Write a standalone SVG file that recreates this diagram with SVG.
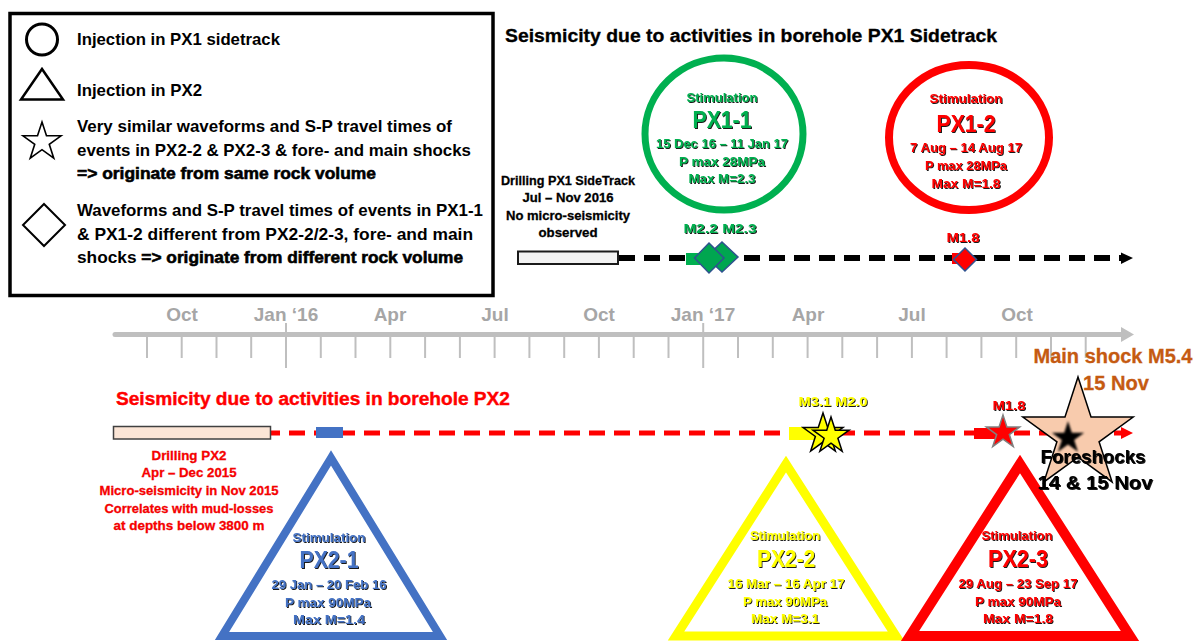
<svg xmlns="http://www.w3.org/2000/svg" width="1193" height="642" viewBox="0 0 1193 642">
<defs>
<style>
text{font-family:"Liberation Sans",Arial,sans-serif;font-weight:bold}
.lg{font-size:17px;fill:#000}
.hv{stroke:#000;stroke-width:0.6}
.ax{font-size:19px;fill:#A6A6A6;text-anchor:middle}
.tick{stroke:#BFBFBF;stroke-width:2}
.c{text-anchor:middle}
.s{font-size:13.5px}
.big{font-size:23px}
.sh{filter:url(#sh)}
.g{fill:#00B050}
.r{fill:#FF0000}
.b{fill:#4472C4}
.y{fill:#FFFF00}
.k{fill:#000}
.th{stroke:#000;stroke-width:0.3}
</style>
<filter id="sh" x="-10%" y="-30%" width="125%" height="170%">
<feDropShadow dx="1" dy="1" stdDeviation="0.45" flood-color="#000" flood-opacity="0.9"/>
</filter>
<filter id="blur" x="-20%" y="-20%" width="140%" height="140%">
<feGaussianBlur stdDeviation="0.8"/>
</filter>
<path id="star" vector-effect="non-scaling-stroke" d="M0,-1 L0.2245,-0.309 L0.9511,-0.309 L0.3633,0.118 L0.5878,0.809 L0,0.382 L-0.5878,0.809 L-0.3633,0.118 L-0.9511,-0.309 L-0.2245,-0.309 Z"/>
</defs>
<rect width="1193" height="642" fill="#fff"/>

<g id="legend">
<rect x="10" y="13.5" width="483" height="282" fill="#fff" stroke="#000" stroke-width="3.5"/>
<circle cx="42" cy="39.5" r="15.5" fill="none" stroke="#000" stroke-width="3"/>
<polygon points="42,69 21,99.5 63,99.5" fill="none" stroke="#000" stroke-width="2.5"/>
<use href="#star" transform="translate(42,142) scale(20)" fill="#fff" stroke="#000" stroke-width="1.6"/>
<polygon points="44,204 65,225 44,246 23,225" fill="none" stroke="#000" stroke-width="2"/>
<text class="lg" x="77" y="45" textLength="203" lengthAdjust="spacingAndGlyphs">Injection in PX1 sidetrack</text>
<text class="lg" x="77" y="96" textLength="125" lengthAdjust="spacingAndGlyphs">Injection in PX2</text>
<text class="lg" x="77" y="132" textLength="375" lengthAdjust="spacingAndGlyphs">Very similar waveforms and S-P travel times of</text>
<text class="lg" x="77" y="156" textLength="394" lengthAdjust="spacingAndGlyphs">events in PX2-2 &amp; PX2-3 &amp; fore- and main shocks</text>
<text class="lg hv" x="77" y="179" textLength="299" lengthAdjust="spacingAndGlyphs">=&gt; originate from same rock volume</text>
<text class="lg" x="77" y="216" textLength="406" lengthAdjust="spacingAndGlyphs">Waveforms and S-P travel times of events in PX1-1</text>
<text class="lg" x="77" y="240" textLength="396" lengthAdjust="spacingAndGlyphs">&amp; PX1-2 different from PX2-2/2-3, fore- and main</text>
<text class="lg" x="77" y="263" textLength="386" lengthAdjust="spacingAndGlyphs">shocks <tspan class="hv">=&gt; originate from different rock volume</tspan></text>
</g>

<g id="title-px1">
<text x="505" y="42" font-size="18" fill="#000" class="th" textLength="492" lengthAdjust="spacingAndGlyphs">Seismicity due to activities in borehole PX1 Sidetrack</text>
</g>

<g id="timeline">
<line x1="115" y1="334.5" x2="1122" y2="334.5" stroke="#BFBFBF" stroke-width="5" stroke-linecap="round"/>
<polygon points="1121,327 1134,334.5 1121,342" fill="#BFBFBF"/>
<g class="tick">
<line x1="147" y1="337" x2="147" y2="358"/>
<line x1="181.7" y1="337" x2="181.7" y2="358"/>
<line x1="216.5" y1="337" x2="216.5" y2="358"/>
<line x1="251.2" y1="337" x2="251.2" y2="358"/>
<line x1="286" y1="323" x2="286" y2="368"/>
<line x1="320.8" y1="337" x2="320.8" y2="358"/>
<line x1="355.5" y1="337" x2="355.5" y2="358"/>
<line x1="390.3" y1="337" x2="390.3" y2="358"/>
<line x1="425.1" y1="337" x2="425.1" y2="358"/>
<line x1="459.9" y1="337" x2="459.9" y2="358"/>
<line x1="494.6" y1="337" x2="494.6" y2="358"/>
<line x1="529.4" y1="337" x2="529.4" y2="358"/>
<line x1="564.2" y1="337" x2="564.2" y2="358"/>
<line x1="598.9" y1="337" x2="598.9" y2="358"/>
<line x1="633.7" y1="337" x2="633.7" y2="358"/>
<line x1="668.5" y1="337" x2="668.5" y2="358"/>
<line x1="703.2" y1="323" x2="703.2" y2="368"/>
<line x1="738" y1="337" x2="738" y2="358"/>
<line x1="772.8" y1="337" x2="772.8" y2="358"/>
<line x1="807.6" y1="337" x2="807.6" y2="358"/>
<line x1="842.3" y1="337" x2="842.3" y2="358"/>
<line x1="877.1" y1="337" x2="877.1" y2="358"/>
<line x1="911.9" y1="337" x2="911.9" y2="358"/>
<line x1="946.6" y1="337" x2="946.6" y2="358"/>
<line x1="981.4" y1="337" x2="981.4" y2="358"/>
<line x1="1016.2" y1="337" x2="1016.2" y2="358"/>
<line x1="1051" y1="337" x2="1051" y2="358"/>
<line x1="1085.7" y1="337" x2="1085.7" y2="358"/>
</g>
<text class="ax" x="182" y="321">Oct</text>
<text class="ax" x="286" y="321">Jan ‘16</text>
<text class="ax" x="390" y="321">Apr</text>
<text class="ax" x="495" y="321">Jul</text>
<text class="ax" x="599" y="321">Oct</text>
<text class="ax" x="703" y="321">Jan ‘17</text>
<text class="ax" x="808" y="321">Apr</text>
<text class="ax" x="912" y="321">Jul</text>
<text class="ax" x="1017" y="321">Oct</text>
</g>

<g id="connectors">
<line x1="619" y1="258" x2="1121" y2="258" stroke="#000" stroke-width="6" stroke-dasharray="16 9"/>
<polygon points="1121,252.5 1133,258 1121,264" fill="#000"/>
<line x1="271" y1="433" x2="1121" y2="433" stroke="#FF0000" stroke-width="5" stroke-dasharray="16 9" stroke-dashoffset="7"/>
<polygon points="1121,427 1133,433 1121,439" fill="#FF0000"/>
</g>

<g id="px1-drilling">
<rect x="518" y="251.5" width="100" height="12.5" fill="#F2F2F2" stroke="#1a1a1a" stroke-width="2"/>
<g class="c k th" font-size="13">
<text x="568" y="185" textLength="134" lengthAdjust="spacingAndGlyphs">Drilling PX1 SideTrack</text>
<text x="568" y="202" textLength="91" lengthAdjust="spacingAndGlyphs">Jul – Nov 2016</text>
<text x="568" y="220" textLength="124" lengthAdjust="spacingAndGlyphs">No micro-seismicity</text>
<text x="568" y="237" textLength="59" lengthAdjust="spacingAndGlyphs">observed</text>
</g>
</g>

<g id="px1-1">
<ellipse cx="724" cy="134" rx="79" ry="76" fill="none" stroke="#00B050" stroke-width="7"/>
<g class="c g sh">
<text class="s" x="722" y="102" textLength="71" lengthAdjust="spacingAndGlyphs">Stimulation</text>
<text class="big" x="722" y="128" textLength="59" lengthAdjust="spacingAndGlyphs">PX1-1</text>
<text class="s" x="722" y="148" textLength="132" lengthAdjust="spacingAndGlyphs">15 Dec 16 – 11 Jan 17</text>
<text class="s" x="722" y="166" textLength="86" lengthAdjust="spacingAndGlyphs">P max 28MPa</text>
<text class="s" x="722" y="183" textLength="67" lengthAdjust="spacingAndGlyphs">Max M=2.3</text>
<text class="s" x="720" y="233" textLength="73" lengthAdjust="spacingAndGlyphs">M2.2  M2.3</text>
</g>
<rect x="686" y="253" width="16" height="12" fill="#00B050"/>
<polygon points="722,242 738,257 722,272 706,257" fill="#00A650" stroke="#2F528F" stroke-width="1.5"/>
<polygon points="709,243 724,258 709,273 694.5,258" fill="#00A650" stroke="#2F528F" stroke-width="1.5"/>
</g>

<g id="px1-2">
<ellipse cx="969" cy="137.5" rx="80" ry="72.5" fill="none" stroke="#FF0000" stroke-width="8"/>
<g class="c r sh">
<text class="s" x="966" y="103" textLength="73" lengthAdjust="spacingAndGlyphs">Stimulation</text>
<text class="big" x="966" y="132" textLength="59" lengthAdjust="spacingAndGlyphs">PX1-2</text>
<text class="s" x="966" y="152" textLength="112" lengthAdjust="spacingAndGlyphs">7 Aug – 14 Aug 17</text>
<text class="s" x="966" y="170" textLength="82" lengthAdjust="spacingAndGlyphs">P max 28MPa</text>
<text class="s" x="966" y="188" textLength="69" lengthAdjust="spacingAndGlyphs">Max M=1.8</text>
<text class="s" x="963" y="242" textLength="33" lengthAdjust="spacingAndGlyphs">M1.8</text>
</g>
<rect x="952" y="253" width="13" height="11" fill="#FF0000"/>
<polygon points="965,248 976.5,259.5 965,271 953.5,259.5" fill="#FF0000" stroke="#2F528F" stroke-width="1.5"/>
</g>

<g id="title-px2">
<text x="116" y="405" font-size="18" class="r" stroke="#FF0000" stroke-width="0.4" textLength="394" lengthAdjust="spacingAndGlyphs">Seismicity due to activities in borehole PX2</text>
</g>

<g id="px2-drilling">
<rect x="113.5" y="426.5" width="157" height="12.5" fill="#FBE5D6" stroke="#404040" stroke-width="1.5"/>
<g class="c r s" stroke="#E00000" stroke-width="0.3">
<text x="189" y="460" textLength="75" lengthAdjust="spacingAndGlyphs">Drilling PX2</text>
<text x="189" y="477" textLength="95" lengthAdjust="spacingAndGlyphs">Apr – Dec 2015</text>
<text x="189" y="495" textLength="179" lengthAdjust="spacingAndGlyphs">Micro-seismicity in Nov 2015</text>
<text x="189" y="513" textLength="169" lengthAdjust="spacingAndGlyphs">Correlates with mud-losses</text>
<text x="189" y="530" textLength="151" lengthAdjust="spacingAndGlyphs">at depths below 3800 m</text>
</g>
</g>

<g id="px2-1">
<rect x="316" y="427" width="27" height="11" fill="#4472C4"/>
<polygon points="331,458 222,636 440,636" fill="none" stroke="#4472C4" stroke-width="8"/>
<g class="c b sh">
<text class="s" x="329" y="542" textLength="73" lengthAdjust="spacingAndGlyphs">Stimulation</text>
<text class="big" x="329" y="568" textLength="59" lengthAdjust="spacingAndGlyphs">PX2-1</text>
<text class="s" x="329" y="589" textLength="115" lengthAdjust="spacingAndGlyphs">29 Jan – 20 Feb 16</text>
<text class="s" x="328" y="607" textLength="86" lengthAdjust="spacingAndGlyphs">P max 90MPa</text>
<text class="s" x="329" y="624" textLength="72" lengthAdjust="spacingAndGlyphs">Max M=1.4</text>
</g>
</g>

<g id="px2-2">
<rect x="789" y="427" width="26" height="13" fill="#FFFF00"/>
<use href="#star" transform="translate(823,434) scale(21)" fill="#FFFF00" stroke="#000" stroke-width="1.5"/>
<use href="#star" transform="translate(831,436) scale(19)" fill="#FFFF00" stroke="#000" stroke-width="1.5"/>
<polygon points="786,464 676,636 896,636" fill="none" stroke="#FFFF00" stroke-width="9"/>
<g class="c y sh">
<text class="s" x="833" y="406" textLength="69" lengthAdjust="spacingAndGlyphs">M3.1 M2.0</text>
<text class="s" x="785" y="540" textLength="70" lengthAdjust="spacingAndGlyphs">Stimulation</text>
<text class="big" x="786" y="567" textLength="58" lengthAdjust="spacingAndGlyphs">PX2-2</text>
<text class="s" x="786" y="588" textLength="117" lengthAdjust="spacingAndGlyphs">16 Mar – 16 Apr 17</text>
<text class="s" x="785" y="606" textLength="84" lengthAdjust="spacingAndGlyphs">P max 90MPa</text>
<text class="s" x="785" y="623" textLength="68" lengthAdjust="spacingAndGlyphs">Max M=3.1</text>
</g>
</g>

<g id="px2-3">
<rect x="974" y="428" width="22" height="11" fill="#FF0000"/>
<use href="#star" transform="translate(1003,432.5) scale(17.5)" fill="#FF0000" stroke="#808080" stroke-width="1.5"/>
<polygon points="1020,464 910,636 1130,636" fill="none" stroke="#FF0000" stroke-width="10"/>
<g class="c r sh">
<text class="s" x="1009" y="410" textLength="33" lengthAdjust="spacingAndGlyphs">M1.8</text>
<text class="s" x="1017" y="540" textLength="71" lengthAdjust="spacingAndGlyphs">Stimulation</text>
<text class="big" x="1018" y="567" textLength="60" lengthAdjust="spacingAndGlyphs">PX2-3</text>
<text class="s" x="1018" y="588" textLength="119" lengthAdjust="spacingAndGlyphs">29 Aug – 23 Sep 17</text>
<text class="s" x="1018" y="606" textLength="86" lengthAdjust="spacingAndGlyphs">P max 90MPa</text>
<text class="s" x="1018" y="623" textLength="70" lengthAdjust="spacingAndGlyphs">Max M=1.8</text>
</g>
</g>

<g id="mainshock">
<use href="#star" transform="translate(1078,435) scale(58)" fill="#F8CBAD" stroke="#000" stroke-width="1.5"/>
<g filter="url(#blur)">
<use href="#star" transform="translate(1068,438) scale(17)" fill="#000" stroke="none"/>
</g>
<text class="c" x="1113" y="363" font-size="20" fill="#C55A11" stroke="#C55A11" stroke-width="0.3" textLength="159" lengthAdjust="spacingAndGlyphs">Main shock M5.4</text>
<text class="c" x="1116" y="390" font-size="20" fill="#C55A11" stroke="#C55A11" stroke-width="0.3" textLength="66" lengthAdjust="spacingAndGlyphs">15 Nov</text>
<g class="c k sh" font-size="19">
<text x="1093" y="463" textLength="105" lengthAdjust="spacingAndGlyphs">Foreshocks</text>
<text x="1095" y="489" textLength="115" lengthAdjust="spacingAndGlyphs">14 &amp; 15 Nov</text>
</g>
</g>
</svg>
